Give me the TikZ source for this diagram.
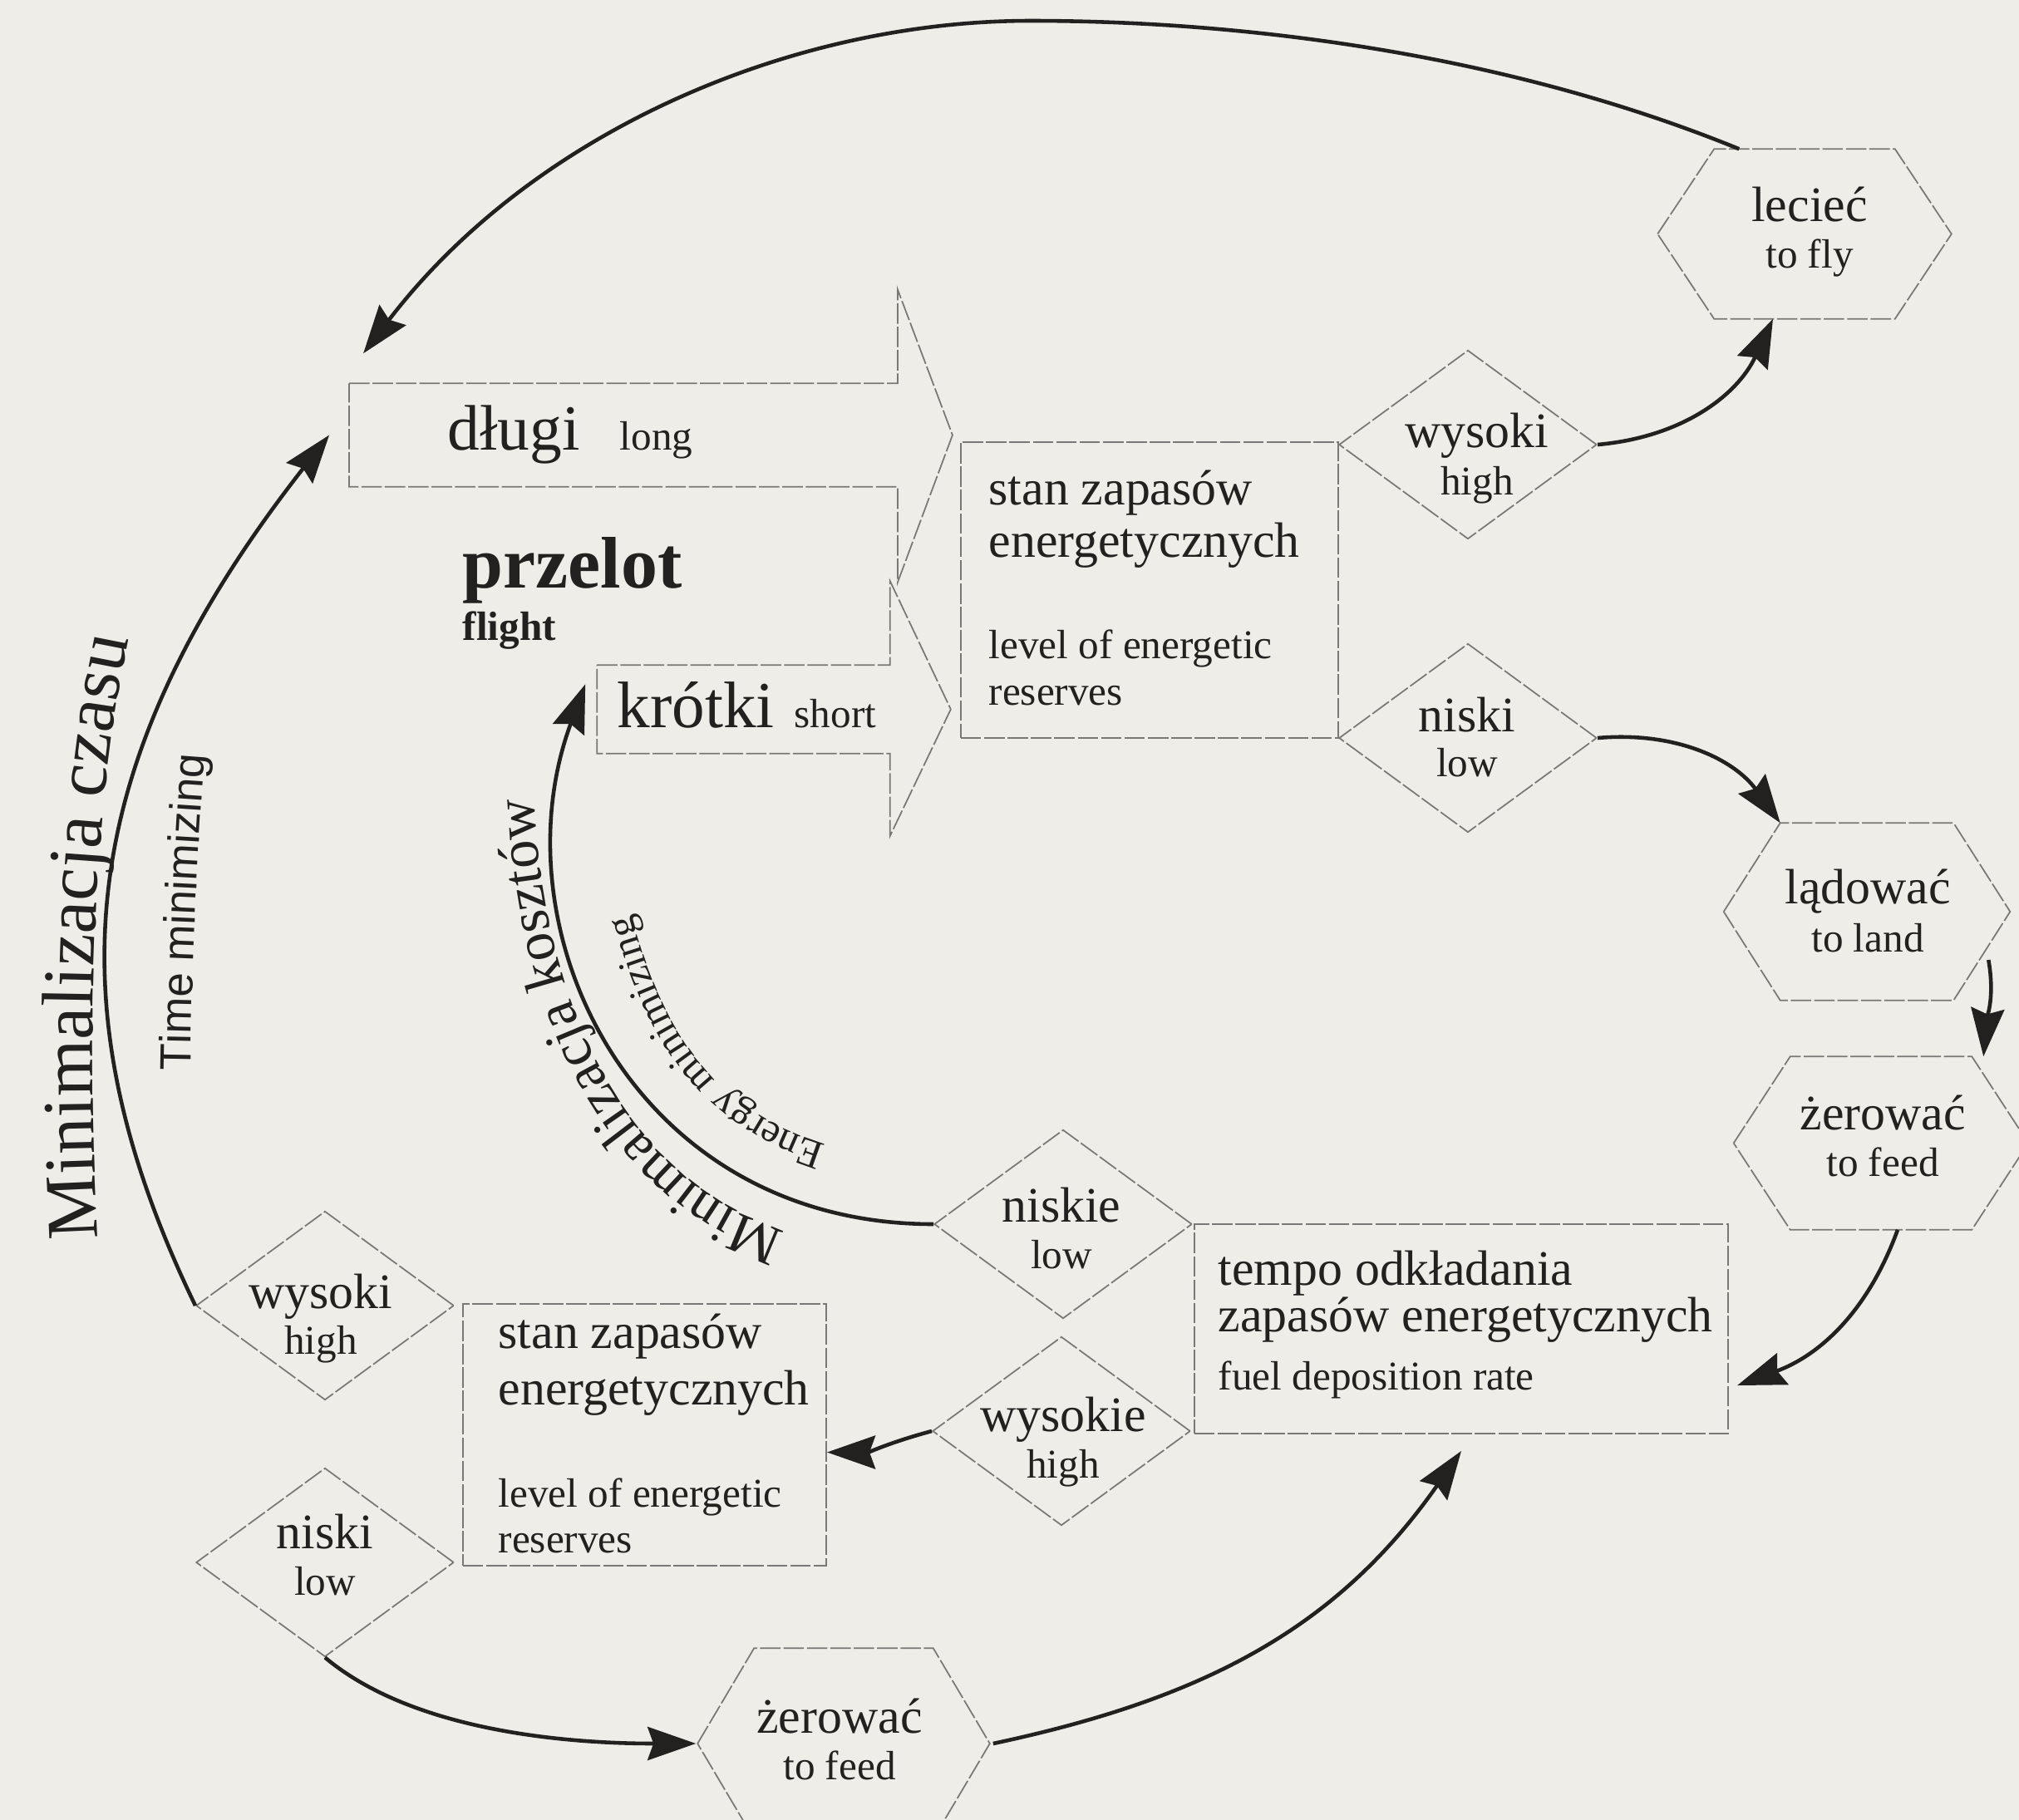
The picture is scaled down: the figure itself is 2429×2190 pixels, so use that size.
\documentclass[tikz,border=0pt]{standalone}
\usepackage{fontspec}
\setmainfont{Liberation Serif}
\newfontfamily\sansf{Liberation Sans}
\usetikzlibrary{arrows.meta,shapes.geometric,decorations.text,calc}
\definecolor{paper}{RGB}{238,237,232}
\definecolor{ink}{RGB}{35,32,32}
\definecolor{edge}{RGB}{120,120,118}
\newcommand{\fbig}{\fontsize{17}{18}\selectfont}
\newcommand{\fsm}{\fontsize{14}{15}\selectfont}
\newcommand{\myhex}[1]{\draw[shapeline] ([xshift=-0.68cm]#1.west) -- (#1.north west) -- (#1.north east) -- ([xshift=0.68cm]#1.east) -- (#1.south east) -- (#1.south west) -- cycle;}
\tikzset{
 shapeline/.style={draw=edge, line width=0.5pt, dash pattern=on 7pt off 1pt},
 diam/.style={diamond, shapeline, minimum width=3.1cm, minimum height=2.27cm, inner sep=0pt},
 boxnode/.style={rectangle, shapeline, inner sep=0pt},
 core/.style={rectangle, draw=none, inner sep=0pt},
 lab/.style={anchor=base, inner sep=0pt, text=ink, font=\fbig},
 labs/.style={anchor=base, inner sep=0pt, text=ink, font=\fsm},
 labl/.style={anchor=base west, inner sep=0pt, text=ink, font=\fbig},
 labls/.style={anchor=base west, inner sep=0pt, text=ink, font=\fsm},
 conn/.style={draw=ink, line width=1.3pt, -{Stealth[length=0.58cm,width=0.4cm,inset=0.07cm]}},
}
\begin{document}
\begin{tikzpicture}[x=0.01cm,y=-0.01cm]
\useasboundingbox (0,0) rectangle (2429,2190);
\fill[paper] (0,0) rectangle (2429,2190);

% big flight arrows
\node[core, minimum width=6.58cm, minimum height=1.23cm] (longA) at (750,523.5) {};
\draw[shapeline] (longA.north west) -- (longA.north east) -- ([yshift=1.13cm]longA.north east) -- ([xshift=0.66cm]longA.east) -- ([yshift=-1.15cm]longA.south east) -- (longA.south east) -- (longA.south west) -- cycle;
\node[core, minimum width=3.51cm, minimum height=1.05cm] (shortA) at (894.5,853.5) {};
\draw[shapeline] (shortA.north west) -- (shortA.north east) -- ([yshift=1.01cm]shortA.north east) -- ([xshift=0.73cm]shortA.east) -- ([yshift=-0.99cm]shortA.south east) -- (shortA.south east) -- (shortA.south west) -- cycle;
\node[anchor=base west, inner sep=0pt, text=ink, font=\fontsize{22}{24}\selectfont] (tlong) at (538,541) {długi};
\node[labls] (tlong2) at (745,541) {long};
\node[anchor=base west, inner sep=0pt, text=ink, font=\bfseries\fontsize{25}{27}\selectfont] (tflight) at (556,707) {przelot};
\node[anchor=base west, inner sep=0pt, text=ink, font=\bfseries\fsm] (tflight2) at (556,770) {flight};
\node[anchor=base west, inner sep=0pt, text=ink, font=\fontsize{22.5}{24}\selectfont] (tshort) at (742,875) {krótki};
\node[labls] (tshort2) at (955,875) {short};

% boxes
\node[boxnode, minimum width=4.54cm, minimum height=3.56cm] (resA) at (1383,710) {};
\node[labl] (ra1) at (1189,607) {stan zapasów};
\node[labl] (ra2) at (1189,670) {energetycznych};
\node[labls] (ra3) at (1189,792) {level of energetic};
\node[labls] (ra4) at (1189,848) {reserves};

\node[boxnode, minimum width=4.37cm, minimum height=3.15cm] (resB) at (775.5,1726.5) {};
\node[labl] (rb1) at (599,1622) {stan zapasów};
\node[labl] (rb2) at (599,1690) {energetycznych};
\node[labls] (rb3) at (599,1813) {level of energetic};
\node[labls] (rb4) at (599,1868) {reserves};

\node[boxnode, minimum width=6.42cm, minimum height=2.52cm] (rate) at (1758,1599) {};
\node[labl] (rt1) at (1465,1546) {tempo odkładania};
\node[labl] (rt2) at (1465,1602) {zapasów energetycznych};
\node[labls] (rt3) at (1465,1672) {fuel deposition rate};

% diamonds
\node[diam] (hiA) at (1766,535) {};
\node[lab] (thiA) at (1777,538) {wysoki}; \node[labs] (thiA2) at (1777,595) {high};
\node[diam] (loA) at (1766,888) {};
\node[lab] (tloA) at (1765,880) {niski}; \node[labs] (tloA2) at (1765,934) {low};
\node[diam] (hiB) at (391,1571) {};
\node[lab] (thiB) at (386,1574) {wysoki}; \node[labs] (thiB2) at (386,1629) {high};
\node[diam] (loB) at (391,1880) {};
\node[lab] (tloB) at (391,1863) {niski}; \node[labs] (tloB2) at (391,1919) {low};
\node[diam] (lowE) at (1279,1473) {};
\node[lab] (tlowE) at (1277,1470) {niskie}; \node[labs] (tlowE2) at (1277,1526) {low};
\node[diam] (highE) at (1277,1722) {};
\node[lab] (thighE) at (1279,1722) {wysokie}; \node[labs] (thighE2) at (1279,1778) {high};

% hexagons
\node[core, minimum width=2.16cm, minimum height=2.03cm] (fly) at (2171,281.5) {};
\myhex{fly}
\node[lab] (tfly1) at (2177,266) {lecieć}; \node[labs] (tfly2) at (2177,322) {to fly};
\node[core, minimum width=2.07cm, minimum height=2.12cm] (land) at (2246,1097) {};
\myhex{land}
\node[lab] (tland1) at (2247,1087) {lądować}; \node[labs] (tland2) at (2247,1145) {to land};
\node[core, minimum width=2.17cm, minimum height=2.07cm] (feedR) at (2263,1375.5) {};
\myhex{feedR}
\node[lab] (tfr1) at (2265,1359) {żerować}; \node[labs] (tfr2) at (2265,1415) {to feed};
\node[core, minimum width=2.14cm, minimum height=2.28cm] (feedB) at (1015,2098) {};
\myhex{feedB}
\node[lab] (tfb1) at (1010,2085) {żerować}; \node[labs] (tfb2) at (1010,2141) {to feed};

% connector end coordinates
\coordinate (longTop) at ([xshift=0.17cm,yshift=0.36cm]longA.north west);
\coordinate (shortIn) at ([xshift=-0.14cm,yshift=-0.23cm]shortA.north west);

% connectors
\draw[conn] ([xshift=0.3cm]fly.north west) .. controls (1800,60) and (1480,25) .. (1240,25) .. controls (950,25) and (640,160) .. (longTop);
\draw[conn] (hiA.east) to[out=5,in=-115] ([xshift=-0.38cm]fly.south);
\draw[conn] (loA.east) to[out=5,in=126] (land.north west);
\draw[conn] ([xshift=0.42cm,yshift=-0.58cm]land.east) to[out=-80,in=85] ([xshift=0.14cm]feedR.north east);
\draw[conn] ([xshift=0.2cm]feedR.south) to[out=-110,in=20] ([xshift=0.1cm,yshift=-0.68cm]rate.east);
\draw[conn] (lowE.west) .. controls (760,1473) and (595,1118) .. (shortIn);
\draw[conn] (highE.west) to[out=195,in=0] ([yshift=-0.21cm]resB.east);
\draw[conn] (hiB.west) .. controls (65,1219) and (82,925) .. ([xshift=-0.24cm]longA.west);
\draw[conn] (loB.south) to[out=-40,in=180,looseness=0.8] ([xshift=-0.7cm]feedB.west);
\draw[conn] ([xshift=0.72cm]feedB.east) to[out=12,in=-125] ([yshift=-0.2cm]rate.south);

% labels along the arcs
\path[decorate, decoration={text along path, text align=center, text color=ink, text={|\fontsize{25}{25}\selectfont|Minimalizacja czasu}}] (119,1515) .. controls (103,1250) and (110,960) .. (160,745);
\path[decorate, decoration={text along path, text align=center, text color=ink, text={|\sansf\fontsize{15}{15}\selectfont|Time minimizing}}] (229,1300) .. controls (231,1160) and (237,1030) .. (247,897);
\path[decorate, decoration={text along path, text align=left, text color=ink, text={|\fontsize{19.5}{20}\selectfont|Minimalizacja kosztów}}] (945,1481) .. controls (755,1421) and (652,1215) .. (642,950);
\path[decorate, decoration={text along path, text align=center, text color=ink, text={|\fontsize{14}{15}\selectfont|Energy minimizing}}] (1003,1380) .. controls (859,1338) and (797,1245) .. (757,1090);
\end{tikzpicture}
\end{document}
